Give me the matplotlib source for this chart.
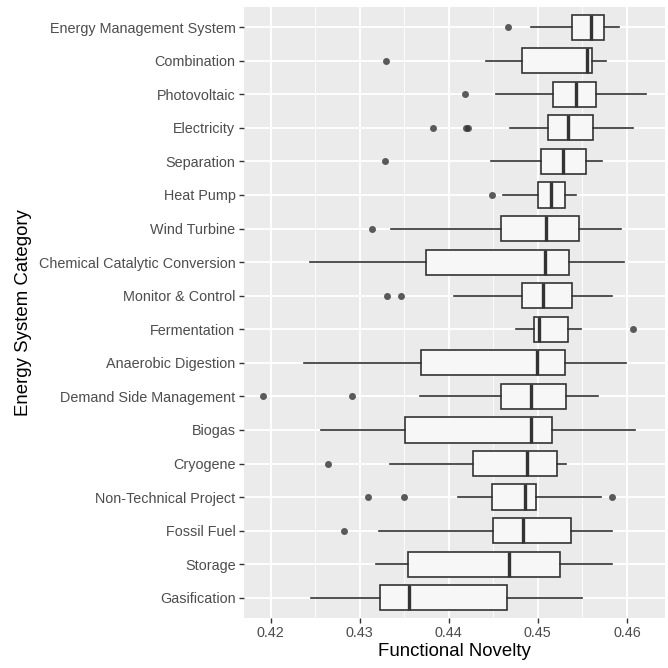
import matplotlib.pyplot as plt
from matplotlib.ticker import MultipleLocator

# categories from top to bottom
categories = [
    "Energy Management System", "Combination", "Photovoltaic", "Electricity",
    "Separation", "Heat Pump", "Wind Turbine", "Chemical Catalytic Conversion",
    "Monitor & Control", "Fermentation", "Anaerobic Digestion",
    "Demand Side Management", "Biogas", "Cryogene", "Non-Technical Project",
    "Fossil Fuel", "Storage", "Gasification",
]
whisker_low = [0.44918, 0.44414, 0.44534, 0.44690, 0.44470, 0.44612, 0.43351, 0.42440, 0.44063,
               0.44750, 0.42377, 0.43672, 0.42571, 0.43343, 0.44108, 0.43216, 0.43187, 0.42448]
q1 = [0.45381, 0.44817, 0.45168, 0.45116, 0.45037, 0.45007, 0.44586, 0.43746, 0.44817,
      0.44959, 0.43687, 0.44586, 0.43507, 0.44276, 0.44481, 0.44500, 0.43541, 0.43224]
median = [0.45601, 0.45556, 0.45433, 0.45340, 0.45284, 0.45149, 0.45090, 0.45078, 0.45060,
          0.45011, 0.44993, 0.44922, 0.44918, 0.44881, 0.44858, 0.44828, 0.44672, 0.43556]
q3 = [0.45743, 0.45604, 0.45653, 0.45619, 0.45537, 0.45306, 0.45463, 0.45351, 0.45381,
      0.45343, 0.45306, 0.45313, 0.45160, 0.45220, 0.44985, 0.45369, 0.45254, 0.44657]
whisker_high = [0.45910, 0.45769, 0.46209, 0.46071, 0.45720, 0.45425, 0.45933, 0.45966, 0.45832,
                0.45485, 0.45993, 0.45679, 0.46086, 0.45317, 0.45705, 0.45832, 0.45836, 0.45493]
outliers = [
    [0.44668], [0.43295], [0.44183], [0.43825, 0.44194, 0.44216], [0.43287], [0.44481],
    [0.43134], [], [0.43306, 0.43466], [0.46067], [], [0.41914, 0.42914], [],
    [0.42649], [0.43090, 0.43493, 0.45828], [0.42828], [], [],
]

stats = []
for i in range(len(categories)):
    stats.append({
        "whislo": whisker_low[i], "q1": q1[i], "med": median[i],
        "q3": q3[i], "whishi": whisker_high[i], "fliers": outliers[i],
    })

plt.rcParams['font.family'] = ['Liberation Sans', 'DejaVu Sans']

fig = plt.figure(figsize=(6.68, 6.68), dpi=100)
ax = fig.add_axes([0.365, 0.075, 0.63, 0.9145])
ax.set_facecolor('#EBEBEB')

positions = list(range(1, len(categories) + 1))
line_col = '#333333'
ax.bxp(stats, positions=positions, vert=False, widths=0.75, patch_artist=True,
       showcaps=False,
       boxprops=dict(facecolor='#F7F7F7', edgecolor=line_col, linewidth=1.2),
       whiskerprops=dict(color=line_col, linewidth=1.2),
       medianprops=dict(color=line_col, linewidth=2.4),
       flierprops=dict(marker='o', markerfacecolor='#333333', markeredgecolor='none',
                       markersize=5, alpha=0.8),
       zorder=3)

ax.set_xlim(0.41699, 0.46424)
ax.set_ylim(len(categories) + 0.6, 0.4)
ax.set_yticks(positions)
ax.set_yticklabels(categories)
ax.xaxis.set_minor_locator(MultipleLocator(0.005))
ax.set_xticks([0.42, 0.43, 0.44, 0.45, 0.46])
ax.set_xticklabels(["0.42", "0.43", "0.44", "0.45", "0.46"])

ax.grid(which='major', color='white', linewidth=1.3, zorder=0)
ax.grid(which='minor', axis='x', color='white', linewidth=0.6, zorder=0)
ax.set_axisbelow(True)
for s in ax.spines.values():
    s.set_visible(False)

ax.tick_params(axis='both', which='major', colors='#333333', length=3.5, width=1,
               labelsize=10.4, labelcolor='#4D4D4D', pad=2.5)
ax.tick_params(axis='both', which='minor', length=0)

ax.set_xlabel("Functional Novelty", fontsize=13.4, color='black', labelpad=2)
ax.set_ylabel("Energy System Category", fontsize=13.4, color='black', labelpad=5)

fig.savefig("out.png", dpi=100)
